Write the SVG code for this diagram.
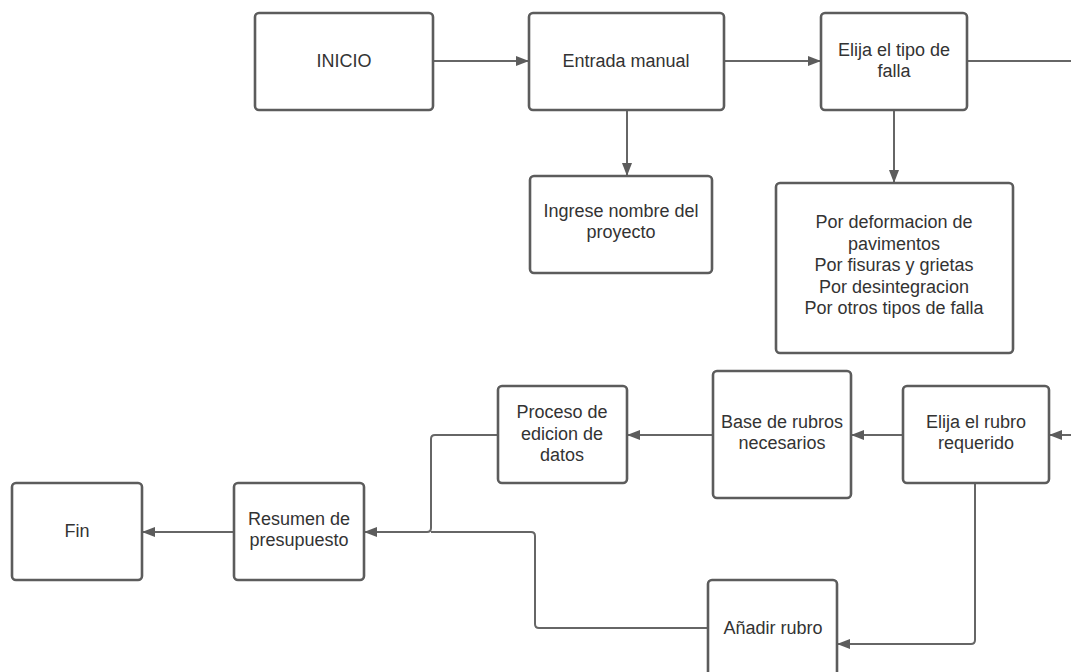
<svg xmlns="http://www.w3.org/2000/svg" width="1071" height="672" viewBox="0 0 1071 672">
<style>
.box{fill:#ffffff;stroke:#5c5c5c;stroke-width:2.6}
.t{font-family:"Liberation Sans",Arial,sans-serif;font-size:18px;fill:#333333;text-anchor:middle}
.c{fill:none;stroke:#666666;stroke-width:2}
</style>
<defs>
<marker id="ah" markerUnits="userSpaceOnUse" markerWidth="13" markerHeight="10" refX="13" refY="5" orient="auto">
<path d="M0,0 L13,5 L0,10 z" fill="#5c5c5c"/>
</marker>
</defs>
<rect width="1071" height="672" fill="#ffffff"/>
<g id="connectors">
<path class="c" d="M433,61 H529" marker-end="url(#ah)"/>
<path class="c" d="M724,61 H821" marker-end="url(#ah)"/>
<path class="c" d="M967,61 H1071"/>
<path class="c" d="M627,110 V176" marker-end="url(#ah)"/>
<path class="c" d="M894,110 V183" marker-end="url(#ah)"/>
<path class="c" d="M1071,435 H1049" marker-end="url(#ah)"/>
<path class="c" d="M903,435 H851" marker-end="url(#ah)"/>
<path class="c" d="M713,435 H627" marker-end="url(#ah)"/>
<path class="c" d="M498,435 H435 Q431,435 431,439 V528 Q431,532 427,532 H364" marker-end="url(#ah)"/>
<path class="c" d="M708,628 H539 Q535,628 535,624 V536 Q535,532 531,532 H431"/>
<path class="c" d="M975,483 V640 Q975,644 971,644 H837" marker-end="url(#ah)"/>
<path class="c" d="M234,532 H142" marker-end="url(#ah)"/>
</g>
<g id="inicio">
<rect class="box" x="255" y="13" width="178" height="97" rx="4"/>
<text class="t" x="344" y="67">INICIO</text>
</g>
<g id="entrada">
<rect class="box" x="529" y="13" width="195" height="97" rx="4"/>
<text class="t" x="626" y="67">Entrada manual</text>
</g>
<g id="elija-tipo">
<rect class="box" x="821" y="13" width="146" height="97" rx="4"/>
<text class="t" x="894" y="56">Elija el tipo de</text>
<text class="t" x="894" y="77">falla</text>
</g>
<g id="ingrese">
<rect class="box" x="530" y="176" width="182" height="97" rx="4"/>
<text class="t" x="621" y="217">Ingrese nombre del</text>
<text class="t" x="621" y="238">proyecto</text>
</g>
<g id="tipos-falla">
<rect class="box" x="776" y="183" width="237" height="170" rx="4"/>
<text class="t" x="894" y="228">Por deformacion de</text>
<text class="t" x="894" y="249.5">pavimentos</text>
<text class="t" x="894" y="271">Por fisuras y grietas</text>
<text class="t" x="894" y="292.5">Por desintegracion</text>
<text class="t" x="894" y="314">Por otros tipos de falla</text>
</g>
<g id="elija-rubro">
<rect class="box" x="903" y="386" width="146" height="97" rx="4"/>
<text class="t" x="976" y="428">Elija el rubro</text>
<text class="t" x="976" y="449">requerido</text>
</g>
<g id="base-rubros">
<rect class="box" x="713" y="371" width="138" height="127" rx="4"/>
<text class="t" x="782" y="428">Base de rubros</text>
<text class="t" x="782" y="449">necesarios</text>
</g>
<g id="proceso">
<rect class="box" x="498" y="386" width="129" height="97" rx="4"/>
<text class="t" x="562" y="418">Proceso de</text>
<text class="t" x="562" y="439.5">edicion de</text>
<text class="t" x="562" y="461">datos</text>
</g>
<g id="resumen">
<rect class="box" x="234" y="483" width="130" height="97" rx="4"/>
<text class="t" x="299" y="525">Resumen de</text>
<text class="t" x="299" y="546">presupuesto</text>
</g>
<g id="fin">
<rect class="box" x="12" y="483" width="130" height="97" rx="4"/>
<text class="t" x="77" y="537">Fin</text>
</g>
<g id="anadir">
<rect class="box" x="708" y="580" width="129" height="110" rx="4"/>
<text class="t" x="773" y="634">Añadir rubro</text>
</g>
</svg>
